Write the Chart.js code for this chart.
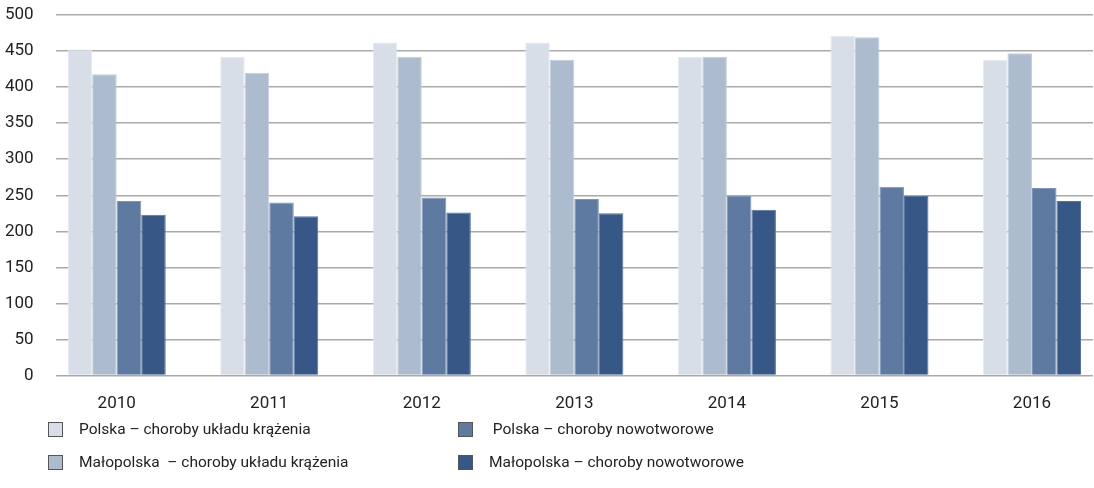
<!DOCTYPE html>
<html>
<head>
<meta charset="utf-8">
<script src="https://cdn.jsdelivr.net/npm/chart.js@4/dist/chart.umd.min.js"></script>
<style>
  body { margin: 0; background: #fff; }
  #wrap { position: relative; width: 1094px; height: 424px; }
  #legend {
    position: absolute; left: 0; top: 420px; width: 1094px;
    font-family: Roboto, sans-serif;
    font-size: 15.5px; color: #222;
  }
  .item { position: absolute; display: flex; align-items: center; white-space: pre; }
  .box { width: 13px; height: 13px; border: 1px solid #555; margin-right: 16px; }
</style>
</head>
<body>
<div id="wrap"><canvas id="myChart"></canvas></div>
<div id="legend"></div>
<script>
const years = ['2010', '2011', '2012', '2013', '2014', '2015', '2016'];
const seriesLabels = [
  'Polska – choroby układu krążenia',
  'Małopolska  – choroby układu krążenia',
  ' Polska – choroby nowotworowe',
  'Małopolska – choroby nowotworowe'
];
const polskaKrazenie = [452, 442, 462, 462, 442, 471, 438];
const malopolskaKrazenie = [418, 420, 442, 438, 442, 469, 447];
const polskaNowotwory = [242, 240, 247, 245, 249, 262, 260];
const malopolskaNowotwory = [223, 221, 226, 225, 230, 249, 242];
const yTicks = [0, 50, 100, 150, 200, 250, 300, 350, 400, 450, 500];

const colors = ['#d7dee8', '#adbbcf', '#5e7aa0', '#375886'];
const edges = ['#e6ebf2', '#c3cedc', '#7d95b6', '#56739c'];

const font = "Roboto, sans-serif";

const allSeries = [polskaKrazenie, malopolskaKrazenie, polskaNowotwory, malopolskaNowotwory];

const canvas = document.getElementById('myChart');
new Chart(canvas, {
  type: 'bar',
  data: {
    labels: years,
    datasets: allSeries.map((d, i) => ({
      label: seriesLabels[i],
      data: d,
      backgroundColor: colors[i],
      borderColor: edges[i],
      borderWidth: 1,
      barPercentage: 1,
      categoryPercentage: 0.643
    }))
  },
  options: {
    responsive: true,
    maintainAspectRatio: false,
    animation: false,
    layout: { padding: { top: 0, right: 1, left: -17 } },
    plugins: {
      legend: { display: false },
      tooltip: { enabled: false }
    },
    scales: {
      x: {
        // groups sit closer to the edges than a half category, so shrink the end gaps
        afterBuildTicks: (axis) => {
          axis._startValue = -0.4;
          axis._valueRange = years.length - 1 + 0.8;
        },
        grid: { display: false },
        border: { display: false },
        ticks: { color: '#222', font: { family: font, size: 17 }, padding: 10 }
      },
      y: {
        min: 0,
        max: 500,
        afterBuildTicks: (axis) => { axis.ticks = yTicks.map(v => ({ value: v })); },
        // tick padding would also be added above the axis, set the top gap by hand
        afterFit: (axis) => { axis.paddingTop = 15; axis.paddingBottom = 0; },
        grid: { color: '#a9a9a9', lineWidth: 1.5, drawTicks: false },
        border: { display: false },
        ticks: { color: '#222', font: { family: font, size: 17 }, padding: 22 }
      }
    }
  }
});

// legend in two columns, like the original
const legend = document.getElementById('legend');
const pos = [[48, 0], [48, 33], [458, 0], [458, 33]];
seriesLabels.forEach((lab, i) => {
  const el = document.createElement('div');
  el.className = 'item';
  el.style.left = pos[i][0] + 'px';
  el.style.top = pos[i][1] + 'px';
  el.innerHTML = '<span class="box" style="background:' + colors[i] + '"></span><span></span>';
  el.lastChild.textContent = lab;
  legend.appendChild(el);
});
</script>
</body>
</html>
